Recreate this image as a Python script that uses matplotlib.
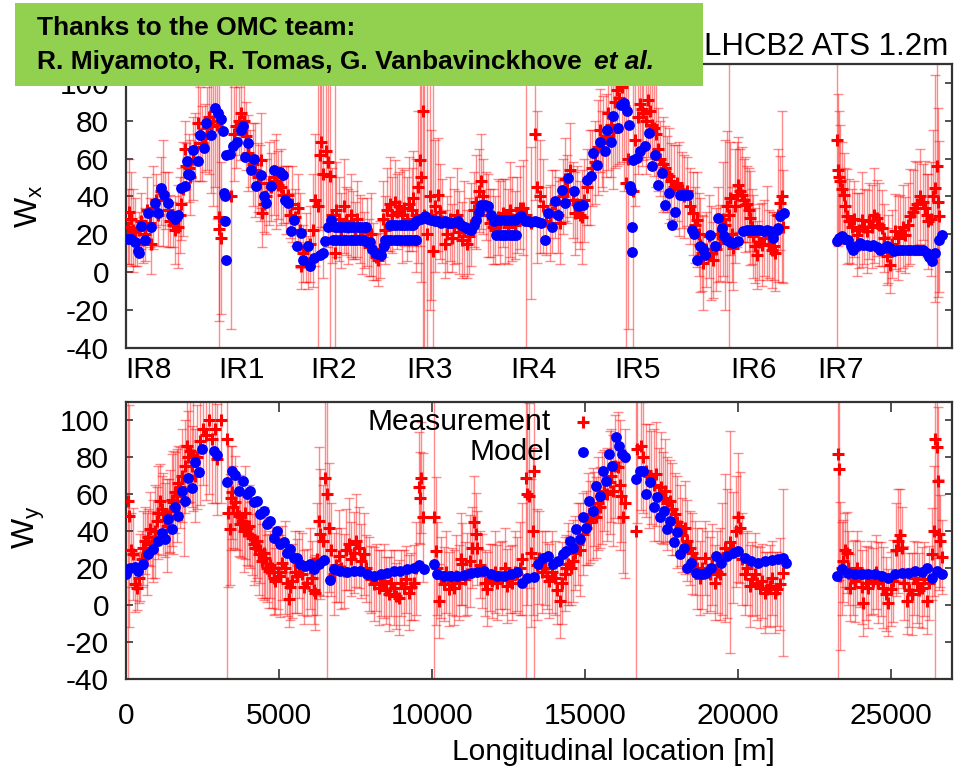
import matplotlib
matplotlib.use("Agg")
import matplotlib.pyplot as plt
from matplotlib.patches import Rectangle

plt.rcParams['font.family'] = ['Liberation Sans', 'DejaVu Sans']
plt.rcParams['mathtext.default'] = 'regular'
plt.rcParams['axes.unicode_minus'] = False

# ---------------- data ----------------
ir_names = ["IR8", "IR1", "IR2", "IR3", "IR4", "IR5", "IR6", "IR7"]
ir_label_s = [-60, 2962, 5975, 9117, 12522, 15927, 19725, 22574]
x_ticks = [0, 5000, 10000, 15000, 20000, 25000]
y_ticks = [-40, -20, 0, 20, 40, 60, 80, 100]

# Horizontal: model
wx_model_s = [0, 120, 230, 340, 390, 450, 560, 670, 775, 885, 990, 1080, 1210, 1320, 1430, 1540, 1650, 1760, 1870, 1955,
              1975, 2060, 2140, 2300, 2360, 2500, 2580, 2720, 2850, 2960, 3050, 3120, 3155, 3180, 3200, 3210, 3230, 3340,
              3450, 3590, 3720, 3780, 3830, 3940, 4050, 4150, 4210, 4380, 4470, 4540, 4700, 4810, 4980, 5090, 5140, 5250,
              5360, 5450, 5560, 5690, 5740, 5900, 5960, 6120, 6290, 6400, 6470, 6560, 6650,
              6780, 6890, 7000, 7110, 7220, 7330, 7430, 7540, 7650, 7760, 7820,
              6720, 6830, 6940, 7050, 7160, 7270, 7380, 7490, 7600, 7710, 7850,
              7930, 8000, 8090, 8200, 8310, 8380,
              8420, 8530, 8640, 8750, 8850, 8960, 9070, 9180, 9290, 9400, 9450,
              8580, 8690, 8800, 8910, 9020, 9130, 9240, 9350, 9450,
              9600, 9730, 9850, 9950, 10050, 10160, 10270, 10380, 10490, 10600, 10710, 10820, 10930, 11040, 11150, 11260,
              11340, 11420, 11500, 11580, 11700, 11800, 11900, 12010, 12120, 12240, 12350, 12460, 12570, 12670, 12780,
              12890, 13000, 13110, 13220, 13330, 13440, 13550,
              12070, 12180, 12290, 12400, 12510, 12620, 12720,
              13670, 13770, 13890, 14000, 14105, 14215, 14325, 14430, 14600, 14760, 14925, 15030, 15165, 15250, 15380,
              15470, 15630, 15690, 15820, 15906, 16040, 16150, 16255, 16340, 16430, 16450, 16470, 16510, 16530, 16560,
              16670, 16780, 16940, 17085, 17160, 17270, 17380, 17490, 17600, 17710, 17820, 17925, 18090, 18170, 18250,
              18360, 18470, 18560, 18635, 18745, 18830, 18910, 19070, 19235, 19340, 19450, 19540, 19620, 19730, 19835,
              20000, 20160, 20270, 20380, 20490, 20600, 20710, 20820, 20930, 21035, 21145, 21250, 21310, 21360, 21495,
              23220, 23300, 23380, 23490, 23600, 23680, 23760, 23870, 23980, 24090, 24200, 24310, 24420, 24530, 24640,
              24750, 24855, 24965, 25075, 25180, 25290, 25400, 25510, 25620, 25730, 25840, 25945, 26055, 26165, 26250,
              26330, 26440, 26550, 26655]
wx_model = [17.4, 17.4, 16, 11, 10, 24.5, 17, 31, 24, 36.5, 31, 44.4, 41, 36.5, 30, 28, 30, 44.4, 45.6, 58.5,
            52, 51.5, 64.7, 58.5, 72.6, 65.6, 78.8, 72.6, 86.7, 84, 81, 74.4, 41.8, 40, 26.8, 6.5, 62, 62.5,
            66.4, 69, 75, 77, 61, 68, 54, 60, 45.3, 51.5, 40, 36.5, 45.3, 54, 53, 51.5, 38, 36.5,
            21.5, 27.7, 13.6, 20.6, 6.5, 13.6, 3, 7.4, 9.2, 10, 16.2, 24, 27.7,
            24, 24, 24, 24, 24, 24, 24, 24, 24, 24, 24,
            17, 17, 17, 17, 17, 17, 17, 17, 17, 17, 16,
            16, 12, 10, 9.5, 9.2, 14,
            17, 17, 17, 17, 17, 17, 17, 17, 17, 17, 17,
            25, 25, 25, 25, 25, 25, 25, 25, 26.8,
            28, 29.4, 28, 27.7, 27, 26.8, 26, 26.8, 26, 26, 26.5, 26.8, 25, 24, 23, 22.4,
            25, 27.7, 32, 35.6, 35.6, 34.7, 30, 26.8, 27.5, 27.7, 27.7, 27.7, 27.5, 27.7, 28.5,
            29.8, 27, 26.8, 26.5, 26.8, 26.5, 26,
            19.7, 19.7, 19.7, 19.7, 19.7, 19.7, 19.7,
            17, 31, 24, 37.4, 30.3, 43.5, 36.5, 49.7, 42.6, 34.7, 35.6, 48.8, 50.6, 62.9, 56.7,
            69, 63.8, 75.2, 69, 82.3, 76, 88.5, 89.3, 85, 78, 45.3, 43.5, 10.4, 24, 59.4,
            60.3, 63.8, 66.4, 73.5, 55.9, 62, 46.2, 52.3, 35.6, 41.8, 25, 32, 40.9, 41, 40.9,
            40.9, 22.4, 20, 6.5, 13.6, 12, 9.2, 19.7, 13.6, 28.5, 23.3, 19, 17, 16, 15.3,
            16.2, 21.5, 22, 22.4, 22, 22.4, 22, 21.5, 22, 21.5, 18, 22, 23.3, 29.4, 31.2,
            16.2, 18, 18.8, 17.5, 17, 14, 11.8, 14, 15.3, 14.5, 14.4, 14, 14.4, 13, 11.8,
            12.5, 13.6, 12.5, 11, 11.5, 11.8, 11.5, 11.8, 11.8, 11.8, 11.5, 11.8, 11.5, 10, 8,
            5.6, 10, 17, 19.7]

# Horizontal: measurement
wx_meas_s = [0, 60, 120, 180, 240, 300, 360, 430, 500, 560, 640, 720, 775, 850, 930, 1000, 1080, 1160, 1240, 1320,
             1400, 1480, 1560, 1650, 1720, 1760, 1830, 1870, 1930, 2000, 2060, 2140, 2220, 2300, 2360, 2440, 2520,
             2600, 2680, 2740, 2800, 2860, 2920, 2980, 3010, 3060, 3395, 3480, 3560, 3640, 3720, 3800, 3870, 3940,
             4020, 4100, 4180, 4260, 4330, 4380, 4400, 4470, 4540, 4620, 4700, 4780, 4860, 4940, 5020, 5100, 5180,
             5250, 5330, 5400, 5480, 5580, 5630, 5690, 5760, 5840, 5900, 5980, 6060, 6140, 6230, 6300, 6340, 6400,
             6500, 6560, 6630, 6700, 6780, 6840, 6920, 7000, 7080, 7150, 7220, 7300, 7380, 7450, 7520, 7600, 7680,
             7750, 7830, 7900, 7970, 8050, 8130, 8200, 8280, 8350, 8430, 8510, 8580, 8660, 8745, 8820, 8900, 8980,
             9060, 9140, 9220, 9300, 9345, 9430, 9500, 9560, 9600, 9670, 9720, 9790, 9890, 9950, 10000, 10080, 10160,
             10240, 10300, 10380, 10460, 10540, 10620, 10700, 10780, 10860, 10940, 11020, 11100, 11180, 11260, 11340,
             11420, 11500, 11580, 11650, 11720, 11800, 11880, 11960, 12040, 12120, 12200, 12280, 12360, 12440, 12520,
             12600, 12680, 12760, 12850, 12960, 13050, 13200, 13330, 13400, 13500, 13615, 13700, 13830, 13910, 14000,
             14080, 14160, 14240, 14325, 14400, 14490, 14570, 14650, 14720, 14800, 14870, 14950, 15030, 15140, 15220,
             15305, 15400, 15470, 15520, 15580, 15660, 15740, 15820, 15906, 15960, 16015, 16100, 16180, 16260, 16320,
             16380, 16560, 16620, 16700, 16780, 16850, 16890, 16960, 17050, 17110, 17160, 17230, 17300, 17370, 17435,
             17520, 17600, 17660, 17710, 17800, 17900, 17980, 18060, 18140, 18220, 18300, 18400, 18500, 18570, 18635,
             18700, 18745, 18800, 18850, 18930, 19020, 19100, 19180, 19260, 19330, 19400, 19480, 19560, 19620, 19680,
             19725, 19790, 19835, 19900, 19950, 20000, 20060, 20110, 20170, 20220, 20280, 20330, 20380, 20440, 20490,
             20550, 20600, 20680, 20760, 20840, 20925, 21000, 21090, 21150, 21200, 21280, 21360, 21420, 21450,
             23240, 23270, 23300, 23330, 23390, 23440, 23500, 23550, 23630, 23710, 23790, 23875, 23960, 24040, 24120,
             24200, 24280, 24365, 24450, 24530, 24610, 24690, 24770, 24855, 24910, 24960, 25040, 25125, 25210, 25290,
             25370, 25450, 25540, 25620, 25700, 25780, 25860, 25945, 26030, 26110, 26170, 26220, 26300, 26380, 26440,
             26490, 26530, 26580]
wx_meas = [24, 32, 28, 22, 21, 15, 22, 27, 17, 20, 33, 26, 15, 34, 38, 30, 43, 42, 38, 33,
           27, 25, 22, 24, 30, 36, 44, 65, 56, 55, 50, 60, 66, 79, 73, 68, 71,
           76, 82, 77, 80, 85, 78, 23, 29, 18, 40, 73, 77, 80, 84, 80, 72, 63,
           60, 57, 54, 50, 47, 59, 31, 36, 40, 47, 45, 50, 48, 46, 45, 41, 38,
           41, 30, 36, 29, 34, 22, 3, 10, 13, 5, 15, 22, 38, 35, 62, 69, 52,
           64, 58, 51, 30, 10, 33, 28, 22, 35, 27, 24, 30, 25, 22, 28, 23, 19,
           17, 21, 13, 20, 11, 8, 6.5, 12, 28, 22, 33, 36, 30, 37, 32, 35, 30,
           34, 28, 36, 33, 39, 30, 45, 59, 50, 85, 30, 20, 40, 30, 11, 35, 41,
           32, 27, 15, 20, 28, 18, 24, 30, 21, 17, 23, 15, 19, 25, 33,
           37, 43, 48, 40, 35, 30, 26, 24, 22, 29, 26, 31, 27, 24, 33,
           28, 25, 30, 34, 34, 30, 26, 73, 45, 40, 35, 27, 26, 32, 36,
           30, 26, 40, 49, 44, 54, 38, 31, 36, 30, 29, 38, 45, 50, 55,
           58, 66, 75, 65, 68, 72, 84, 78, 74, 90, 96, 92, 98, 88, 47,
           60, 43, 70, 82, 89, 86, 84, 80, 91, 85, 78, 76, 73, 65, 60,
           57, 55, 52, 51, 48, 45, 47, 44, 43.5, 40, 42.6, 35, 31, 25, 27.7,
           20, 14.4, 10, 4.8, 12, 18.8, 10, 6.5, 12, 20, 15.3, 28, 25, 34.7, 30,
           39, 20, 12.7, 35, 41, 46.2, 43, 40.9, 38, 35.6, 36, 33, 28.5, 24, 18.8,
           14, 9.2, 16, 14.4, 18, 20.6, 15, 11.8, 14, 10, 30, 36.5, 40, 24,
           70, 54, 50, 48, 44, 40.9, 35, 29.4, 27, 24, 28, 19.7, 22, 27.7, 24,
           21.5, 27, 24, 30, 28.5, 25, 23.3, 18, 8.3, 12, 3.9, 15, 21.5, 18, 20.6,
           24, 19.7, 25, 29.4, 32, 33.8, 36, 40, 37, 33.8, 30, 26.8, 28, 40, 44.4,
           55.9, 37, 29.4]
wx_meas_err = [20, 28, 25, 22, 18, 12, 10, 15, 12, 14, 17, 13, 16, 22, 14, 16, 18, 28, 15, 20,
               14, 12, 18, 22, 20, 19, 25, 15, 12, 18, 20, 22, 18, 20, 25, 20, 18,
               22, 30, 35, 45, 40, 50, 130, 55, 40, 70, 25, 22, 18, 25, 20, 18, 20,
               15, 22, 25, 18, 20, 25, 18, 15, 20, 22, 18, 20, 25, 18, 20, 15, 18,
               15, 12, 20, 15, 18, 20, 12, 15, 18, 14, 20, 30, 35, 130, 40, 45, 55,
               40, 45, 130, 25, 130, 25, 22, 20, 25, 18, 20, 22, 18, 15, 20, 18, 20,
               15, 18, 15, 22, 15, 12, 14, 15, 20, 18, 22, 25, 20, 22, 20, 18, 25,
               20, 22, 25, 22, 25, 30, 40, 45, 55, 130, 80, 130, 60, 45, 130, 35, 30,
               25, 22, 18, 20, 22, 18, 20, 25, 22, 20, 25, 18, 20, 22, 20,
               25, 22, 25, 20, 18, 22, 18, 20, 18, 20, 22, 18, 22, 20, 25,
               22, 18, 20, 22, 25, 130, 40, 35, 40, 30, 25, 18, 20, 22, 18,
               20, 22, 20, 22, 18, 25, 20, 22, 20, 18, 25, 22, 20, 25, 20,
               22, 25, 22, 20, 25, 22, 30, 28, 30, 35, 40, 35, 40, 45, 130,
               90, 130, 35, 30, 28, 30, 25, 28, 30, 25, 22, 25, 28, 22, 20,
               25, 22, 20, 25, 20, 22, 20, 25, 20, 22, 18, 20, 22, 20, 25,
               22, 25, 20, 25, 20, 22, 25, 20, 22, 25, 20, 30, 45, 40, 130,
               30, 25, 22, 30, 28, 25, 22, 25, 22, 25, 20, 22, 25, 20, 22,
               20, 18, 20, 22, 20, 25, 18, 20, 18, 20, 35, 25, 45, 30,
               130, 40, 35, 30, 25, 22, 20, 25, 22, 20, 20, 22, 20, 25, 20,
               22, 20, 22, 25, 20, 22, 20, 18, 15, 18, 15, 18, 20, 22, 20,
               22, 20, 22, 25, 22, 25, 22, 25, 20, 25, 22, 25, 30, 35, 60,
               130, 50, 40]

# Vertical: model
wy_model_s = [0, 120, 280, 390, 560, 720, 885, 1050, 1160, 1270, 1375, 1485, 1595, 1700, 1810, 1920, 2030, 2140,
              2250, 2360, 2470, 2850, 2980, 3285, 3450, 3560, 3670, 3830, 3940, 4050, 4160, 4270, 4380, 4490, 4600,
              4700, 4815, 4920, 5030, 5140, 5250, 5360, 5470, 5580, 5690, 5850, 6015, 6125, 6290, 6450, 6650, 6780,
              7000, 7220, 7430, 7650, 7870, 8090, 8310, 8530, 8745, 8960, 9180, 9400, 9560, 9730,
              10050, 10160, 10380, 10600, 10820, 11040, 11260, 11470, 11690, 11910, 12130, 12350, 12565, 12785, 12950,
              13110, 13330, 13450, 13615, 13780, 13940, 14105, 14270, 14380, 14490, 14600, 14710, 14815, 14925, 15035,
              15140, 15250, 15360, 15470, 15580, 15690, 15775, 15885, 15995, 16100, 16210, 16290, 16650, 16780, 16890,
              17000, 17130, 17240, 17350, 17460, 17565, 17675, 17785, 17895, 18000, 18110, 18220, 18330, 18470, 18635,
              18800, 18960, 19125, 19290, 19450, 19620, 19835, 20000, 20220, 20435, 20655, 20870, 21090, 21310, 21470,
              21560,
              23220, 23380, 23600, 23820, 24040, 24250, 24470, 24690, 24910, 25125, 25345, 25560, 25780, 25995, 26165,
              26330, 26490, 26655]
wy_model = [17, 20.4, 20.8, 18.6, 22.2, 27.6, 30.3, 34.8, 38.8, 35.7, 46.6, 41, 53.2, 48.4, 62, 56.5, 69, 63.4,
            77.3, 71.8, 84.5, 83.6, 81.4, 66.4, 72.7, 70.6, 62, 67.3, 60, 62, 55.6, 56.5, 49.3, 51, 43.9,
            45.7, 36.6, 40.3, 33, 34, 28.5, 30.3, 25.8, 25.8, 22.2, 21.3, 22.2, 19.5, 22.2, 24.4, 13.5, 19.5,
            18.6, 18.2, 18.6, 18.6, 16.8, 15.9, 16.8, 17.7, 18.6, 18.6, 19.5, 20.4, 21.8, 19.5,
            22.2, 16.8, 15.9, 15.9, 15.9, 16.4, 17.7, 18.2, 18.6, 16.8, 15.9, 15.9, 16.8, 18.2, 12.3,
            15, 15.3, 22.2, 25.8, 26.7, 22.2, 24, 27.6, 29.4, 34.8, 31.2, 41.2, 35.7, 47.5, 42,
            56.5, 51, 64.6, 59.2, 72.7, 67.3, 81.8, 75.5, 90.8, 86.3, 81.8, 80, 68.2, 72.7, 72.7,
            60, 66.4, 52.9, 58.3, 47.5, 51, 41.2, 45.7, 34, 39.4, 27.6, 31.2, 20.4, 23.1, 17.7,
            16.8, 17.7, 20.4, 26.7, 23.1, 26.7, 28.5, 29.4, 25.8, 24, 23.1, 24, 24.4, 24.9, 25.8,
            22.6,
            15.9, 19.5, 17.7, 16.8, 16.8, 16.8, 16.8, 15.9, 15, 16.8, 17.7, 17.7, 18.6, 18.2, 20.4,
            15, 18.6, 17]

# Vertical: measurement
wy_meas_s = [65, 100, 150, 230, 285, 340, 400, 450, 510, 560, 620, 665, 720, 775, 830, 885, 940, 990, 1050, 1100,
             1160, 1210, 1270, 1320, 1380, 1430, 1490, 1540, 1600, 1650, 1700, 1760, 1820, 1870, 1930, 1975, 2030,
             2085, 2140, 2195, 2260, 2320, 2410, 2520, 2600, 2700, 2800, 2900, 2960, 3100, 3285, 3340, 3380, 3420,
             3450, 3500, 3560, 3620, 3670, 3720, 3780, 3840, 3890, 3950, 4000, 4050, 4105, 4160, 4215, 4270, 4325,
             4380, 4430, 4490, 4540, 4600, 4650, 4700, 4760, 4820, 4870, 4950, 5030, 5100, 5200, 5250, 5305, 5360,
             5415, 5500, 5580, 5660, 5740, 5820, 5905, 5990, 6070, 6130, 6180, 6240, 6290, 6340, 6420, 6505, 6560,
             6615, 6700, 6780, 6860, 6945, 7030, 7110, 7190, 7270, 7350, 7435, 7520, 7600, 7680, 7760, 7840, 7925,
             8010, 8090, 8170, 8255, 8340, 8420, 8500, 8580, 8660, 8745, 8830, 8910, 8990, 9070, 9150, 9240, 9320,
             9400, 9480, 9560, 9600, 9640, 9700, 10050, 10110, 10170, 10220, 10300, 10380, 10460, 10545, 10630, 10710,
             10790, 10875, 10930, 10980, 11060, 11150, 11230, 11310, 11370, 11420, 11470, 11550, 11640, 11720, 11800,
             11880, 11965, 12050, 12130, 12210, 12290, 12370, 12455, 12540, 12620, 12700, 12785, 12870, 12950, 13055,
             13110, 13165, 13220, 13280, 13330, 13440, 13505, 13590, 13670, 13750, 13830, 13910, 14000, 14080, 14160,
             14240, 14325, 14380, 14435, 14520, 14600, 14680, 14760, 14840, 14925, 15010, 15090, 15170, 15250, 15300,
             15360, 15420, 15470, 15550, 15630, 15710, 15800, 15850, 15906, 15990, 16070, 16130, 16180, 16235, 16300,
             16670, 16700, 16835, 16900, 17000, 17080, 17160, 17240, 17325, 17400, 17490, 17540, 17600, 17680, 17760,
             17840, 17925, 18000, 18090, 18170, 18250, 18330, 18415, 18500, 18580, 18660, 18745, 18830, 18910, 18990,
             19070, 19150, 19235, 19320, 19400, 19480, 19565, 19640, 19725, 19835, 19920, 20000, 20055, 20140, 20220,
             20300, 20380, 20460, 20545, 20630, 20710, 20790, 20870, 20950, 21035, 21120, 21200, 21280, 21360, 21470,
             23275, 23305, 23330, 23390, 23440, 23500, 23550, 23600, 23655, 23740, 23820, 23900, 23985, 24040, 24090,
             24170, 24250, 24330, 24420, 24500, 24585, 24660, 24745, 24830, 24910, 24990, 25075, 25160, 25240, 25300,
             25345, 25430, 25510, 25600, 25680, 25760, 25840, 25920, 26000, 26080, 26165, 26250, 26330, 26400, 26440,
             26490, 26530, 26560, 26600, 26655]
wy_meas = [56.5, 48, 30, 27.6, 11.4, 9.6, 15, 20.4, 25, 31.2, 35, 27.6, 37, 41.2, 33, 34.8, 40, 45.7, 50, 56.5,
           52, 49.3, 46, 43, 48, 51, 57, 55.6, 61, 59.2, 66, 63.7, 70, 56.5, 75, 86.3, 80,
           83.6, 75, 81, 70, 80, 89, 95, 92, 100, 90, 95, 79, 100, 90, 50, 41.2, 58,
           61, 53, 55.6, 50, 48.4, 44, 45.7, 40, 50, 42, 43, 38, 36.6, 33, 31.2, 35, 27.6,
           30, 24, 28, 25.8, 20, 18.6, 22, 20.4, 15, 13.2, 18, 15.9, 23, 20.4, 12, 3.2, 10,
           13.2, 18, 15.9, 22, 16.8, 10, 12.3, 20, 15, 8, 6.9, 25, 45.7, 38.4, 35, 69, 60,
           42, 30, 16.8, 22, 26.7, 20, 18.6, 30, 33, 25, 28.5, 35, 31.2, 24, 27.6, 20, 16.8,
           14, 11.4, 15, 9.6, 12, 13.2, 8, 6, 12, 9.6, 5, 4.2, 12, 9.6, 14, 6.9, 10,
           12.3, 20, 63.7, 58, 69, 47.5, 47.5, 29.4, 20, 2.3, 15, 11.4, 18, 8.7, 13, 9.6,
           16, 12.3, 25, 22.2, 14, 16.8, 24, 31.2, 45, 38.4, 31.2, 22, 18.6, 12, 8.7,
           15, 13.2, 18, 12.3, 16, 15, 20, 10.5, 14, 12.3, 18, 16.8, 20, 25, 69,
           60, 59.2, 28.5, 40, 72.7, 22, 25.8, 18, 20.4, 16, 13.2, 18, 15, 8, 2.3,
           12, 16.8, 20, 22.2, 20, 24, 28, 33, 30, 38.4, 42, 46.6, 45, 49.3, 52,
           47.5, 55, 52.9, 58, 62, 60, 66.4, 70, 62, 75, 74.5, 65, 59.2, 47.5, 55,
           40.3, 84.5, 86.3, 80, 72.7, 70, 69, 65, 71, 60, 63.7, 58, 62, 55, 56.5,
           52, 49.3, 45, 43, 38, 42, 35, 31.2, 28, 25.8, 20, 15, 20, 25.8, 18,
           16.8, 22, 12.3, 18, 16.8, 25, 31.2, 28, 34, 31.2, 40, 47.5, 42, 25, 16.8,
           20, 10.5, 14, 16.8, 12, 9.6, 13, 6.9, 9, 10.5, 15, 6.9, 9, 11.4, 17.7,
           81.8, 73.6, 15.9, 20, 24, 30, 28.5, 20, 9.6, 15, 13.2, 20, 16.8, 10, 1.4,
           12, 9.6, 15, 13.2, 18, 12.3, 14, 9.6, 6, 1.4, 9, 13.2, 30, 34.8, 38,
           31.2, 12, 2.3, 8, 6, 15, 12.3, 8, 9.6, 14, 2.3, 12, 27.6, 40, 90,
           85.4, 67.3, 38.4, 34.8, 26]
wy_meas_err = [130, 60, 20, 25, 15, 12, 14, 18, 15, 20, 18, 22, 15, 20, 18, 22, 25, 18, 25, 20,
               18, 22, 20, 25, 20, 22, 25, 28, 22, 25, 20, 22, 25, 30, 25, 30, 25,
               28, 22, 30, 25, 28, 35, 30, 35, 40, 35, 40, 30, 45, 130, 40, 30, 28,
               25, 22, 25, 20, 22, 18, 20, 22, 25, 20, 22, 18, 20, 22, 18, 20, 22,
               18, 20, 25, 22, 18, 20, 18, 22, 20, 18, 20, 22, 20, 25, 18, 15, 18,
               20, 22, 20, 18, 22, 20, 18, 22, 20, 18, 20, 30, 40, 35, 30, 45, 130,
               35, 25, 22, 20, 25, 22, 20, 22, 25, 20, 22, 25, 22, 20, 22, 18, 20,
               18, 20, 18, 20, 18, 20, 18, 20, 18, 20, 18, 20, 18, 20, 18, 20, 18,
               20, 25, 30, 25, 30, 35, 130, 40, 25, 20, 22, 20, 22, 20, 18, 20,
               22, 20, 25, 22, 20, 22, 25, 22, 25, 22, 20, 18, 20, 18, 20,
               18, 20, 22, 20, 18, 20, 22, 20, 18, 20, 22, 20, 25, 30, 130,
               60, 50, 40, 45, 130, 30, 25, 22, 20, 18, 20, 22, 20, 18, 20,
               22, 20, 18, 22, 20, 22, 20, 22, 25, 22, 20, 25, 22, 25, 20,
               22, 25, 22, 25, 22, 25, 28, 25, 30, 28, 30, 35, 25, 30, 40,
               130, 40, 35, 30, 25, 28, 25, 30, 28, 25, 30, 25, 28, 25, 22,
               25, 22, 25, 22, 20, 25, 22, 20, 22, 20, 22, 20, 22, 20, 22,
               20, 22, 20, 22, 25, 30, 40, 35, 60, 30, 30, 35, 30, 25, 22,
               20, 22, 20, 22, 20, 22, 20, 22, 20, 22, 20, 22, 20, 25, 45,
               130, 60, 40, 25, 22, 20, 22, 20, 18, 20, 22, 20, 18, 20, 18,
               20, 22, 20, 18, 20, 22, 20, 22, 20, 18, 20, 22, 25, 28, 25,
               22, 20, 18, 20, 22, 20, 22, 20, 22, 20, 18, 20, 25, 35, 130,
               60, 40, 30, 25, 20]

# ---------------- figure ----------------
W, H = 961, 770
fig = plt.figure(figsize=(W / 100, H / 100), dpi=100)
fig.patch.set_facecolor('white')

L, R = 125.7, 951.7
ax1 = fig.add_axes([L / W, 1 - 347.7 / H, (R - L) / W, (347.7 - 64) / H])
ax2 = fig.add_axes([L / W, 1 - 679.3 / H, (R - L) / W, (679.3 - 401.7) / H])

FS = 21.5
frame_col = '#333333'

panels = [(ax1, wx_meas_s, wx_meas, wx_meas_err, wx_model_s, wx_model),
          (ax2, wy_meas_s, wy_meas, wy_meas_err, wy_model_s, wy_model)]
for ax, ms_, mw_, me_, mods, modw in panels:
    ax.errorbar(ms_, mw_, yerr=me_, fmt='none', ecolor=(1, 0, 0, 0.45), elinewidth=1.0,
                capsize=3.5, capthick=1.0, zorder=2)
    ax.plot(ms_, mw_, '+', color='#ff0000', ms=8, mew=2.2, zorder=3, linestyle='none')
    ax.plot(mods, modw, 'o', color='#0000ff', ms=7.8, mec='none', zorder=4, linestyle='none')
    ax.set_xlim(-20, 26980)
    ax.set_ylim(-40, 110)
    ax.set_yticks(y_ticks)
    ax.tick_params(axis='y', direction='in', length=5, width=1.2, labelsize=FS, pad=12,
                   right=True, left=True, colors=frame_col, labelcolor='black')
    for sp in ax.spines.values():
        sp.set_color(frame_col)
        sp.set_linewidth(1.6)

# top panel: IR labels instead of numeric ticks
ax1.set_xticks(ir_label_s)
ax1.set_xticklabels(ir_names, ha='left')
ax1.tick_params(axis='x', length=0, labelsize=FS, pad=6)

# bottom panel ticks
ax2.set_xticks(x_ticks)
ax2.tick_params(axis='x', direction='in', length=7, width=1.2, labelsize=FS, pad=16,
                top=True, bottom=True, colors=frame_col, labelcolor='black')

ax1.set_ylabel('$W_x$', fontsize=23, va='center')
ax1.yaxis.set_label_coords(-0.117, 0.5)
ax2.set_ylabel('$W_y$', fontsize=23, va='center')
ax2.yaxis.set_label_coords(-0.117, 0.549)
ax2.set_xlabel('Longitudinal location [m]', fontsize=21.5)
ax2.xaxis.set_label_coords(0.591, -0.262)
ax2.xaxis.label.set_va('center')

# legend (gnuplot style: text then sample)
ax2.text(0.515, 0.927, 'Measurement', transform=ax2.transAxes, ha='right', va='center', fontsize=21.5)
ax2.text(0.515, 0.819, 'Model', transform=ax2.transAxes, ha='right', va='center', fontsize=21.5)
ax2.plot([0.5533], [0.927], '+', color='#ff0000', ms=8, mew=2.2, transform=ax2.transAxes, clip_on=False)
ax2.plot([0.5533], [0.819], 'o', color='#0000ff', ms=7.8, mec='none', transform=ax2.transAxes, clip_on=False)

# title at top right
fig.text(948 / W, 1 - 47 / H, 'LHCB2 ATS 1.2m', ha='right', va='center', fontsize=22.5)

# green credit box
box = Rectangle((15 / W, 1 - 86 / H), (703 - 15) / W, (86 - 3) / H, transform=fig.transFigure,
                facecolor='#92D050', edgecolor='none', zorder=10)
fig.add_artist(box)
fig.text(37 / W, 1 - 28 / H, 'Thanks to the OMC team:', ha='left', va='center', fontsize=19,
         fontweight='bold', zorder=11)
fig.text(37 / W, 1 - 62 / H, 'R. Miyamoto, R. Tomas, G. Vanbavinckhove', ha='left', va='center',
         fontsize=19, fontweight='bold', zorder=11)
fig.text(594 / W, 1 - 62 / H, 'et al.', ha='left', va='center', fontsize=19, fontweight='bold',
         fontstyle='italic', zorder=11)

fig.savefig('out.png', dpi=100)
